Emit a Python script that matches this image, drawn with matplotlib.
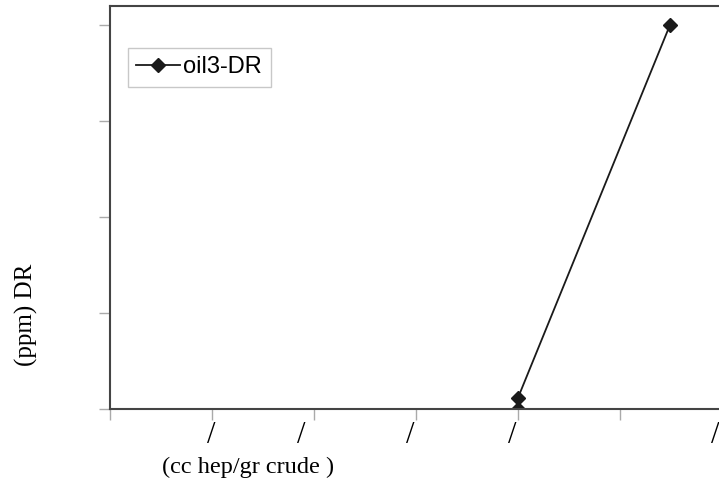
import matplotlib.pyplot as plt

# data (axis units = tick steps)
x_vals = [4.0, 4.0, 5.49]
y_vals = [0.0, 0.115, 4.0]
series_name = 'oil3-DR'
x_ticks = [0, 1, 2, 3, 4, 5, 6]
# the tick labels render as bare slashes, slightly off their ticks
x_label_pos = [0.99, 1.88, 2.94, 3.94, 5.93]
x_label_text = ['/', '/', '/', '/', '/']
y_ticks = [0, 1, 2, 3, 4]

W, H = 719, 486
fig = plt.figure(figsize=(W / 100, H / 100), dpi=100)
left, right, bottom, top = 110, 727, 409, 6
ax = fig.add_axes([left / W, (H - bottom) / H, (right - left) / W, (bottom - top) / H])

ax.plot(x_vals, y_vals, color='#1a1a1a', linewidth=1.3, marker='D',
        markersize=7, label=series_name)

ax.set_xlim(0, 6.05)
ax.set_ylim(0, 4.2)
ax.set_xticks(x_ticks)
ax.set_xticklabels([])
ax.set_yticks(y_ticks)
ax.set_yticklabels([])
ax.tick_params(axis='both', direction='out', length=8, width=1, color='#aaaaaa')

for xp, txt in zip(x_label_pos, x_label_text):
    ax.text(xp, -0.28, txt, family='Liberation Serif', fontsize=22,
            ha='center', va='center', clip_on=False)

for side in ['left', 'bottom', 'top', 'right']:
    ax.spines[side].set_color('#444444')
    ax.spines[side].set_linewidth(1.5)

ax.set_xlabel('(cc hep/gr crude )', family='Liberation Serif', fontsize=17.5)
ax.xaxis.set_label_coords((248 - left) / (right - left), -(457 - bottom) / (bottom - top))
ax.set_ylabel('(ppm) DR', family='Liberation Serif', fontsize=18)
ax.yaxis.set_label_coords(-(left - 38) / (right - left), (bottom - 315) / (bottom - top))

leg = ax.legend(loc='upper left', bbox_to_anchor=((128 - left) / (right - left), 1 - (48 - top) / (bottom - top)),
                prop={'family': 'Liberation Sans', 'size': 17}, frameon=True, fancybox=False,
                borderaxespad=0, handlelength=1.85, handletextpad=0.15, borderpad=0.35)
leg.get_frame().set_edgecolor('#bbbbbb')
leg.get_frame().set_linewidth(1)

fig.savefig('out.png', dpi=100)
